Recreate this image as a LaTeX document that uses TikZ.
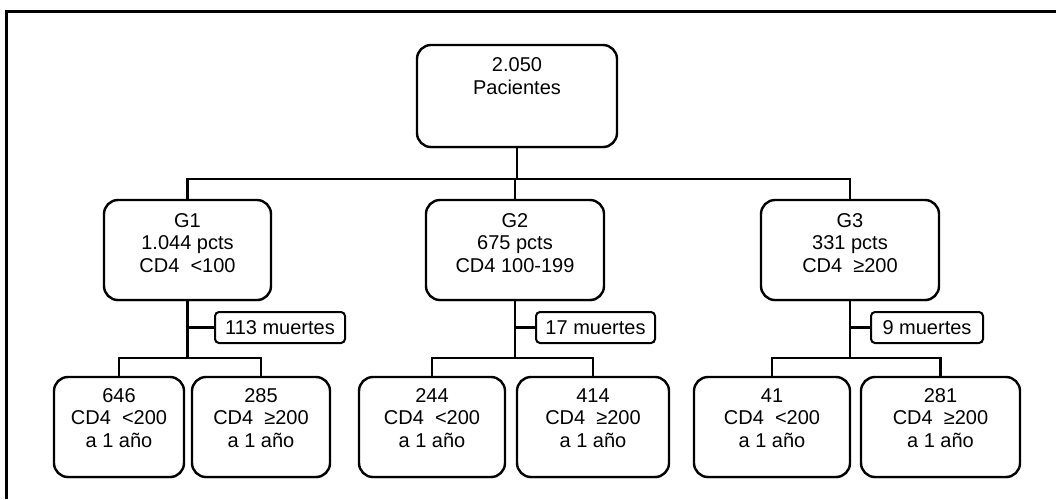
\documentclass[tikz,border=0pt]{standalone}
\usepackage{fontspec}
\setmainfont{Liberation Sans}
\usetikzlibrary{shadows}

% lines of a box, lifted by half of the extra depth
\newcommand{\lineas}[2][0pt]{\raisebox{0pt}[\height][\dimexpr\depth+#1\relax]{\begin{tabular}{@{}c@{}}#2\end{tabular}}}

\begin{document}
\begin{tikzpicture}[x=1pt, y=-1pt,
    caja/.style={draw, fill=white, line width=2.4pt, rounded corners=14pt, inner sep=0pt,
      font=\fontsize{20}{22.5}\selectfont,
      drop shadow={shadow xshift=0.5pt, shadow yshift=-1.4pt, opacity=0.6}},
    muertes/.style={draw, fill=white, line width=2pt, rounded corners=4pt, inner sep=0pt,
      minimum height=31pt, font=\fontsize{20}{22.5}\selectfont},
    linea/.style={line width=2.2pt}]
    \useasboundingbox (0,0) rectangle (1056,499);
    % frame
    \draw[line width=3pt] (6.5,499) -- (6.5,11) -- (1056,11);

    % all patients
    \node[caja, minimum width=200pt, minimum height=102pt] (total) at (517,96) {\lineas[35pt]{2.050\\Pacientes}};

    % groups
    \node[caja, minimum width=167pt, minimum height=100pt] (g1) at (187.5,250) {\lineas[10pt]{G1\\1.044 pcts\\CD4~ <100}};
    \node[caja, minimum width=178pt, minimum height=100pt] (g2) at (515,250) {\lineas[10pt]{G2\\675 pcts\\CD4 100-199}};
    \node[caja, minimum width=178pt, minimum height=100pt] (g3) at (850,250) {\lineas[10pt]{G3\\331 pcts\\CD4~ ≥200}};

    % deaths
    \node[muertes, minimum width=130pt] (m1) at (280,327.5) {113 muertes};
    \node[muertes, minimum width=119pt] (m2) at (595.5,327.5) {17 muertes};
    \node[muertes, minimum width=112pt] (m3) at (927,327.5) {9 muertes};

    % one year later
    \node[caja, minimum width=130pt, minimum height=100pt] (a1) at (119,427) {\lineas[14pt]{646\\CD4~ <200\\a 1 año}};
    \node[caja, minimum width=138pt, minimum height=100pt] (b1) at (261,427) {\lineas[14pt]{285\\CD4~ ≥200\\a 1 año}};
    \node[caja, minimum width=146pt, minimum height=100pt] (a2) at (432,427) {\lineas[14pt]{244\\CD4~ <200\\a 1 año}};
    \node[caja, minimum width=152pt, minimum height=100pt] (b2) at (593,427) {\lineas[14pt]{414\\CD4~ ≥200\\a 1 año}};
    \node[caja, minimum width=156pt, minimum height=100pt] (a3) at (772,427) {\lineas[14pt]{41\\CD4~ <200\\a 1 año}};
    \node[caja, minimum width=159pt, minimum height=100pt] (b3) at (940.5,427) {\lineas[14pt]{281\\CD4~ ≥200\\a 1 año}};

    % connectors
    \coordinate (bus) at (517,179);
    \draw[linea] (total) -- (bus);
    \draw[linea] (g1.north) |- (bus) -| (g3.north);
    \draw[linea] (g2.north) -- (g2.north |- bus);

    \coordinate (c1) at (187.5,358);
    \coordinate (c2) at (515,358);
    \coordinate (c3) at (850,358);
    \draw[linea] (g1.south) -- (c1);
    \draw[linea] (g2.south) -- (c2);
    \draw[linea] (g3.south) -- (c3);
    \draw[linea] (a1.north) |- (c1) -| (b1.north);
    \draw[linea] (a2.north) |- (c2) -| (b2.north);
    \draw[linea] (a3.north) |- (c3) -| (b3.north);
    \draw[linea] (g1.south |- m1.west) -- (m1.west);
    \draw[linea] (g2.south |- m2.west) -- (m2.west);
    \draw[linea] (g3.south |- m3.west) -- (m3.west);
\end{tikzpicture}
\end{document}
